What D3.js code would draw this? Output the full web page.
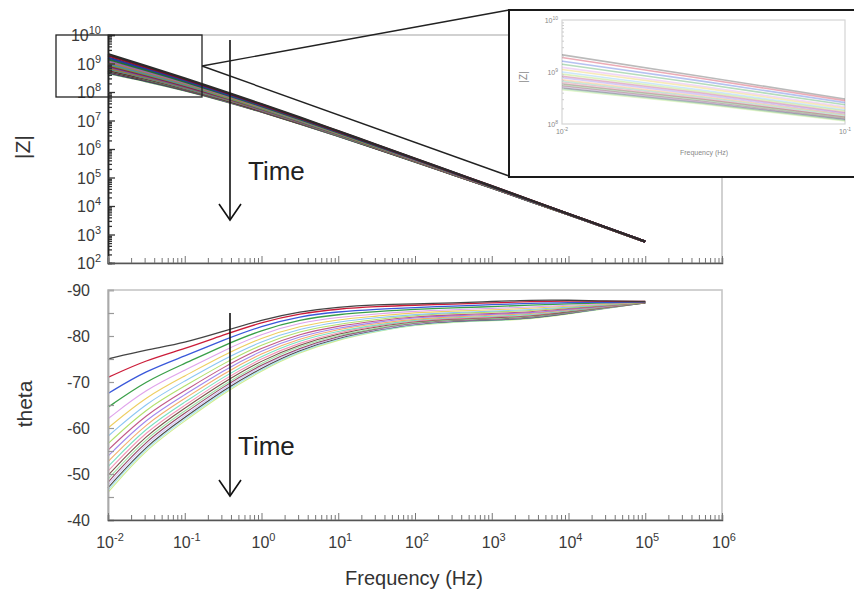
<!DOCTYPE html>
<html>
<head>
<meta charset="utf-8">
<script src="https://cdn.jsdelivr.net/npm/d3@7"></script>
<style>
  body { margin: 0; background: #fff; }
  svg { display: block; }
</style>
</head>
<body>
<svg id="chart" width="854" height="593"></svg>
<script>
// Sweep frequencies (Hz) shared by every measurement
const frequencies = [0.01, 0.0316, 0.1, 0.316, 1, 3.16, 10, 31.6, 100, 316, 1000, 3162, 10000, 31623, 100000];

// Phase angle (degrees), one row per measurement, earliest first
const phaseSeries = [
  [-75.0, -77.0, -78.5, -81.0, -83.5, -85.3, -86.3, -86.8, -87.0, -87.2, -87.5, -87.8, -87.8, -87.6, -87.5],
  [-71.0, -74.8, -77.2, -80.2, -83.0, -84.9, -85.9, -86.4, -86.7, -86.9, -87.2, -87.5, -87.6, -87.5, -87.5],
  [-67.5, -72.5, -75.6, -79.1, -82.2, -84.3, -85.3, -85.8, -86.2, -86.5, -86.8, -87.1, -87.3, -87.3, -87.4],
  [-64.5, -70.3, -74.0, -77.9, -81.3, -83.6, -84.7, -85.3, -85.8, -86.1, -86.4, -86.7, -87.0, -87.2, -87.4],
  [-62.0, -68.5, -72.5, -76.8, -80.5, -82.9, -84.1, -84.8, -85.4, -85.7, -86.0, -86.3, -86.7, -87.0, -87.4],
  [-60.0, -66.9, -71.3, -75.8, -79.7, -82.2, -83.6, -84.3, -85.1, -85.4, -85.7, -86.0, -86.5, -86.9, -87.4],
  [-58.2, -65.5, -70.2, -74.9, -78.9, -81.6, -83.1, -84.0, -84.7, -85.1, -85.4, -85.7, -86.3, -86.8, -87.4],
  [-56.6, -64.3, -69.1, -74.0, -78.2, -81.1, -82.6, -83.6, -84.5, -84.9, -85.2, -85.5, -86.1, -86.7, -87.3],
  [-55.2, -63.1, -68.1, -73.2, -77.5, -80.5, -82.2, -83.3, -84.2, -84.6, -84.9, -85.2, -86.0, -86.6, -87.3],
  [-53.9, -62.1, -67.2, -72.5, -76.9, -80.0, -81.8, -83.0, -84.0, -84.4, -84.7, -85.0, -85.8, -86.5, -87.3],
  [-52.7, -61.1, -66.4, -71.8, -76.3, -79.5, -81.5, -82.7, -83.7, -84.2, -84.5, -84.8, -85.7, -86.5, -87.3],
  [-51.6, -60.2, -65.6, -71.1, -75.7, -79.1, -81.1, -82.4, -83.5, -84.0, -84.3, -84.6, -85.5, -86.4, -87.3],
  [-50.6, -59.4, -64.9, -70.5, -75.2, -78.6, -80.8, -82.2, -83.3, -83.8, -84.1, -84.4, -85.4, -86.3, -87.3],
  [-49.7, -58.6, -64.3, -69.9, -74.7, -78.2, -80.5, -82.0, -83.2, -83.7, -84.0, -84.3, -85.3, -86.3, -87.2],
  [-48.9, -58.0, -63.7, -69.4, -74.2, -77.9, -80.2, -81.7, -83.0, -83.5, -83.8, -84.1, -85.2, -86.2, -87.2],
  [-48.2, -57.4, -63.2, -69.0, -73.8, -77.5, -80.0, -81.6, -82.9, -83.4, -83.7, -84.0, -85.1, -86.2, -87.2],
  [-47.6, -56.9, -62.7, -68.6, -73.5, -77.3, -79.8, -81.4, -82.7, -83.3, -83.6, -83.9, -85.0, -86.1, -87.2],
  [-47.0, -56.3, -62.3, -68.2, -73.1, -77.0, -79.6, -81.3, -82.6, -83.2, -83.5, -83.8, -84.9, -86.1, -87.2],
  [-46.5, -55.9, -61.9, -67.8, -72.8, -76.7, -79.4, -81.1, -82.5, -83.1, -83.4, -83.7, -84.9, -86.0, -87.2],
  [-46.0, -55.5, -61.5, -67.5, -72.5, -76.5, -79.2, -81.0, -82.4, -83.0, -83.3, -83.6, -84.8, -86.0, -87.2]
];

// log10 |Z| (ohm), same rows and frequencies as phaseSeries
const logModulusSeries = [
  [9.33, 8.91, 8.48, 8.03, 7.58, 7.11, 6.63, 6.15, 5.67, 5.18, 4.70, 4.21, 3.72, 3.24, 2.75],
  [9.28, 8.87, 8.45, 8.01, 7.56, 7.09, 6.62, 6.14, 5.66, 5.17, 4.70, 4.21, 3.72, 3.24, 2.75],
  [9.21, 8.82, 8.41, 7.97, 7.53, 7.07, 6.60, 6.13, 5.65, 5.17, 4.69, 4.20, 3.72, 3.24, 2.75],
  [9.15, 8.77, 8.37, 7.94, 7.51, 7.05, 6.58, 6.11, 5.64, 5.16, 4.68, 4.20, 3.72, 3.24, 2.75],
  [9.09, 8.72, 8.33, 7.91, 7.49, 7.03, 6.57, 6.10, 5.63, 5.15, 4.68, 4.20, 3.72, 3.24, 2.75],
  [9.05, 8.69, 8.30, 7.89, 7.47, 7.02, 6.56, 6.09, 5.62, 5.15, 4.67, 4.19, 3.72, 3.24, 2.75],
  [9.00, 8.65, 8.27, 7.87, 7.45, 7.00, 6.55, 6.08, 5.62, 5.14, 4.67, 4.19, 3.72, 3.24, 2.75],
  [8.96, 8.62, 8.25, 7.85, 7.43, 6.99, 6.54, 6.07, 5.61, 5.14, 4.67, 4.19, 3.72, 3.24, 2.75],
  [8.92, 8.59, 8.22, 7.83, 7.42, 6.98, 6.53, 6.06, 5.60, 5.13, 4.66, 4.19, 3.72, 3.24, 2.75],
  [8.89, 8.56, 8.20, 7.81, 7.40, 6.96, 6.52, 6.06, 5.60, 5.13, 4.66, 4.18, 3.72, 3.24, 2.75],
  [8.85, 8.53, 8.18, 7.80, 7.39, 6.95, 6.51, 6.05, 5.59, 5.12, 4.66, 4.18, 3.71, 3.23, 2.75],
  [8.82, 8.51, 8.16, 7.78, 7.38, 6.94, 6.50, 6.04, 5.59, 5.12, 4.65, 4.18, 3.71, 3.23, 2.75],
  [8.80, 8.49, 8.14, 7.77, 7.36, 6.93, 6.49, 6.04, 5.58, 5.12, 4.65, 4.18, 3.71, 3.23, 2.75],
  [8.77, 8.47, 8.13, 7.75, 7.35, 6.93, 6.49, 6.03, 5.58, 5.11, 4.65, 4.18, 3.71, 3.23, 2.75],
  [8.75, 8.45, 8.11, 7.74, 7.35, 6.92, 6.48, 6.03, 5.57, 5.11, 4.65, 4.17, 3.71, 3.23, 2.75],
  [8.73, 8.43, 8.10, 7.73, 7.34, 6.91, 6.48, 6.02, 5.57, 5.11, 4.65, 4.17, 3.71, 3.23, 2.75],
  [8.71, 8.42, 8.09, 7.72, 7.33, 6.91, 6.47, 6.02, 5.57, 5.11, 4.64, 4.17, 3.71, 3.23, 2.75],
  [8.69, 8.40, 8.08, 7.72, 7.32, 6.90, 6.47, 6.02, 5.57, 5.10, 4.64, 4.17, 3.71, 3.23, 2.75],
  [8.67, 8.39, 8.07, 7.71, 7.32, 6.90, 6.46, 6.01, 5.56, 5.10, 4.64, 4.17, 3.71, 3.23, 2.75],
  [8.66, 8.38, 8.06, 7.70, 7.31, 6.89, 6.46, 6.01, 5.56, 5.10, 4.64, 4.17, 3.71, 3.23, 2.75]
];

const seriesColors = [
  "#3a3a3a", "#c8102e", "#2f4fd8", "#2e9a3e", "#d78be6", "#e9c23a", "#6fb8f0", "#9fd848",
  "#b0306a", "#8a6ae8", "#f29a4a", "#57d9b3", "#f07aa5", "#5a2a1e", "#86df95", "#7a1f3d",
  "#c9b6f5", "#1d1d1d", "#8fdfea", "#c6e870"
];

// Axis ticks
const freqDecades = [-2, -1, 0, 1, 2, 3, 4, 5, 6];
const modulusDecades = [2, 3, 4, 5, 6, 7, 8, 9, 10];
const phaseLabels = [-90, -80, -70, -60, -50, -40];
const phaseMinor = [-85, -75, -65, -55, -45];

const font = "'Liberation Sans', Arial, sans-serif";
const svg = d3.select("#chart");

const x = d3.scaleLog().domain([1e-2, 1e6]).range([108, 722]);
const yZ = d3.scaleLog().domain([1e2, 1e10]).range([263, 35]);
const yT = d3.scaleLinear().domain([-90, -40]).range([290, 520]);

// minor log ticks 2..9 within each decade
function minorLogTicks(fromExp, toExp) {
  const out = [];
  for (let e = fromExp; e < toExp; e++) {
    for (let m = 2; m <= 9; m++) out.push(m * Math.pow(10, e));
  }
  return out;
}

function powerLabel(sel, exp, baseSize, supSize) {
  sel.append("tspan").attr("font-size", baseSize).text("10");
  sel.append("tspan").attr("font-size", supSize).attr("dy", -baseSize * 0.42).text(String(exp));
}

// ---------- panel frames ----------
function panelFrame(top, bottom) {
  svg.append("rect")
    .attr("x", 108).attr("y", top)
    .attr("width", 614).attr("height", bottom - top)
    .attr("fill", "none").attr("stroke", "#c6c6c6").attr("stroke-width", 1.6);
}
panelFrame(35, 263);
panelFrame(290, 520);

// ---------- |Z| panel ----------
const zLine = d3.line()
  .x((d, i) => x(frequencies[i]))
  .y(d => yZ(Math.pow(10, d)))
  .curve(d3.curveBasis);

const zGroup = svg.append("g");
logModulusSeries.slice().reverse().forEach((row, k) => {
  const i = logModulusSeries.length - 1 - k;
  zGroup.append("path").attr("d", zLine(row))
    .attr("fill", "none").attr("stroke", d3.color(seriesColors[i]).darker(0.9))
    .attr("stroke-width", 2.2).attr("stroke-linejoin", "round");
});

// left axis of |Z| with dense minor ticks
const zAxisMinor = d3.axisLeft(yZ).tickValues(minorLogTicks(2, 10)).tickSize(-4).tickFormat("");
const zAxisMajor = d3.axisLeft(yZ).tickValues(modulusDecades.map(e => Math.pow(10, e))).tickSize(-7).tickFormat("");
[zAxisMinor, zAxisMajor].forEach(ax => {
  const g = svg.append("g").attr("transform", "translate(108,0)").call(ax);
  g.select(".domain").attr("stroke", "#222").attr("stroke-width", 1.5);
  g.selectAll(".tick line").attr("stroke", "#333").attr("stroke-width", 1.3);
});
svg.append("g").selectAll("text").data(modulusDecades).join("text")
  .attr("x", 101).attr("y", d => yZ(Math.pow(10, d)) + 6)
  .attr("text-anchor", "end").attr("fill", "#3a3a3a").attr("font-family", font)
  .each(function (d) { powerLabel(d3.select(this), d, 16, 11); });

// log frequency axis along a panel's lower edge
function bottomAxis(yPos) {
  const minor = d3.axisBottom(x).tickValues(minorLogTicks(-2, 6)).tickSize(-5).tickFormat("");
  const g = svg.append("g").attr("transform", `translate(0,${yPos})`).call(minor);
  g.select(".domain").attr("stroke", "#555").attr("stroke-width", 1.5);
  g.selectAll(".tick line").attr("stroke", "#777").attr("stroke-width", 1);
  const major = d3.axisBottom(x).tickValues(freqDecades.map(e => Math.pow(10, e))).tickSize(-7).tickFormat("");
  const g2 = svg.append("g").attr("transform", `translate(0,${yPos})`).call(major);
  g2.select(".domain").remove();
  g2.selectAll(".tick line").attr("stroke", "#777").attr("stroke-width", 1);
}
bottomAxis(263);

svg.append("text")
  .attr("transform", "translate(30,147) rotate(-90)")
  .attr("text-anchor", "middle").attr("font-family", font).attr("font-size", 21)
  .attr("fill", "#333").text("|Z|");

// ---------- theta panel ----------
const tLine = d3.line()
  .x((d, i) => x(frequencies[i]))
  .y(d => yT(d))
  .curve(d3.curveBasis);

const tGroup = svg.append("g");
phaseSeries.slice().reverse().forEach((row, k) => {
  const i = phaseSeries.length - 1 - k;
  tGroup.append("path").attr("d", tLine(row))
    .attr("fill", "none").attr("stroke", seriesColors[i])
    .attr("stroke-width", i < 4 ? 1.3 : 1.1).attr("stroke-opacity", i < 4 ? 0.95 : 0.8);
});

const tAxisMajor = d3.axisLeft(yT).tickValues(phaseLabels).tickSize(-6).tickFormat("");
const tAxisMinor = d3.axisLeft(yT).tickValues(phaseMinor).tickSize(-6).tickFormat("");
[tAxisMajor, tAxisMinor].forEach(ax => {
  const g = svg.append("g").attr("transform", "translate(108,0)").call(ax);
  g.select(".domain").attr("stroke", "#aaa").attr("stroke-width", 1.5);
  g.selectAll(".tick line").attr("stroke", "#999").attr("stroke-width", 1.2);
});
svg.append("g").selectAll("text").data(phaseLabels).join("text")
  .attr("x", 90).attr("y", d => yT(d) + 6)
  .attr("text-anchor", "end").attr("fill", "#3a3a3a").attr("font-family", font)
  .attr("font-size", 16).text(d => d);

bottomAxis(520);
svg.append("g").selectAll("text").data(freqDecades).join("text")
  .attr("x", d => x(Math.pow(10, d)) + 2).attr("y", 548)
  .attr("text-anchor", "middle").attr("fill", "#3a3a3a").attr("font-family", font)
  .each(function (d) { powerLabel(d3.select(this), d, 16, 11); });

svg.append("text")
  .attr("x", 414).attr("y", 585)
  .attr("text-anchor", "middle").attr("font-family", font).attr("font-size", 20)
  .attr("fill", "#333").text("Frequency (Hz)");

svg.append("text")
  .attr("transform", "translate(32,404) rotate(-90)")
  .attr("text-anchor", "middle").attr("font-family", font).attr("font-size", 21)
  .attr("fill", "#333").text("theta");

// ---------- "Time" arrows ----------
function timeArrow(x0, yTop, yTip, labelX, labelY) {
  const g = svg.append("g").attr("stroke", "#111").attr("stroke-width", 1.6).attr("fill", "none");
  g.append("line").attr("x1", x0).attr("x2", x0).attr("y1", yTop).attr("y2", yTip);
  g.append("polyline").attr("points", `${x0 - 11},${yTip - 16} ${x0},${yTip} ${x0 + 11},${yTip - 16}`);
  svg.append("text").attr("x", labelX).attr("y", labelY)
    .attr("font-family", font).attr("font-size", 26).attr("fill", "#222").text("Time");
}
timeArrow(230, 40, 220, 248, 180);
timeArrow(230, 313, 496, 238, 455);

// ---------- zoom callout ----------
svg.append("rect").attr("x", 56).attr("y", 35).attr("width", 146).attr("height", 62)
  .attr("fill", "none").attr("stroke", "#222").attr("stroke-width", 1.3);
svg.append("line").attr("x1", 202).attr("y1", 66).attr("x2", 509).attr("y2", 10)
  .attr("stroke", "#222").attr("stroke-width", 1.4);
svg.append("line").attr("x1", 202).attr("y1", 66).attr("x2", 509).attr("y2", 176)
  .attr("stroke", "#222").attr("stroke-width", 1.4);

// inset panel: low-frequency |Z| close-up
svg.append("rect").attr("x", 509).attr("y", 10).attr("width", 360).attr("height", 167)
  .attr("fill", "#fff").attr("stroke", "#1a1a1a").attr("stroke-width", 2);

const xi = d3.scaleLog().domain([1e-2, 1e-1]).range([562, 845]);
const yi = d3.scaleLog().domain([1e8, 1e10]).range([124, 20]);
svg.append("defs").append("clipPath").attr("id", "insetClip")
  .append("rect").attr("x", 562).attr("y", 20).attr("width", 283).attr("height", 104);
svg.append("rect").attr("x", 562).attr("y", 20).attr("width", 283).attr("height", 104)
  .attr("fill", "none").attr("stroke", "#d4d4d4").attr("stroke-width", 1.2);

const iLine = d3.line()
  .x((d, i) => xi(frequencies[i]))
  .y(d => yi(Math.pow(10, d)))
  .curve(d3.curveMonotoneX);
const iGroup = svg.append("g").attr("clip-path", "url(#insetClip)");
logModulusSeries.forEach((row, i) => {
  iGroup.append("path").attr("d", iLine(row))
    .attr("fill", "none").attr("stroke", seriesColors[i])
    .attr("stroke-width", 1.6).attr("stroke-opacity", 0.35);
});
const insetTicks = d3.axisLeft(yi).tickValues(minorLogTicks(8, 10)).tickSize(-2).tickFormat("");
const ig = svg.append("g").attr("transform", "translate(562,0)").call(insetTicks);
ig.select(".domain").remove();
ig.selectAll(".tick line").attr("stroke", "#ccc");

svg.append("g").selectAll("text").data([8, 9, 10]).join("text")
  .attr("x", 558).attr("y", d => yi(Math.pow(10, d)) + 3)
  .attr("text-anchor", "end").attr("fill", "#888").attr("font-family", font)
  .each(function (d) { powerLabel(d3.select(this), d, 7, 5); });
svg.append("g").selectAll("text").data([-2, -1]).join("text")
  .attr("x", d => xi(Math.pow(10, d))).attr("y", 134)
  .attr("text-anchor", "middle").attr("fill", "#888").attr("font-family", font)
  .each(function (d) { powerLabel(d3.select(this), d, 7, 5); });
svg.append("text").attr("transform", "translate(527,77) rotate(-90)")
  .attr("text-anchor", "middle").attr("font-family", font).attr("font-size", 10)
  .attr("fill", "#888").text("|Z|");
svg.append("text").attr("x", 704).attr("y", 155)
  .attr("text-anchor", "middle").attr("font-family", font).attr("font-size", 7)
  .attr("fill", "#888").text("Frequency (Hz)");
</script>
</body>
</html>
